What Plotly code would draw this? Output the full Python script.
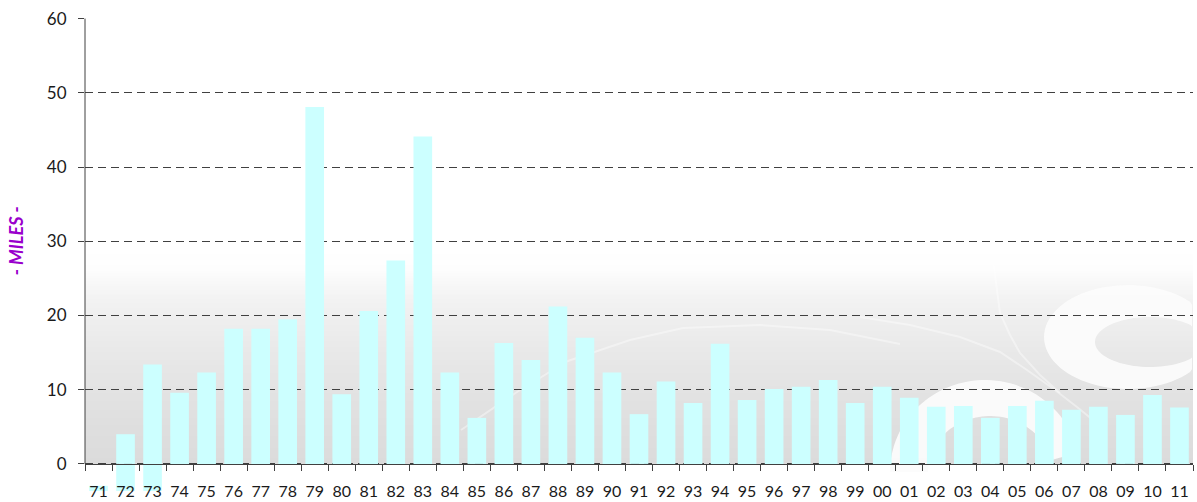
import numpy as np
import plotly.graph_objects as go

# Annual mileage by year (two-digit year labels)
years = ["71", "72", "73", "74", "75", "76", "77", "78", "79", "80",
         "81", "82", "83", "84", "85", "86", "87", "88", "89", "90",
         "91", "92", "93", "94", "95", "96", "97", "98", "99", "00",
         "01", "02", "03", "04", "05", "06", "07", "08", "09", "10", "11"]
miles = [0, 4.0, 13.4, 9.6, 12.3, 18.2, 18.2, 19.5, 48.1, 9.4,
         20.6, 27.4, 44.1, 12.3, 6.2, 16.3, 14.0, 21.2, 17.0, 12.3,
         6.7, 11.1, 8.2, 16.2, 8.6, 10.1, 10.4, 11.3, 8.2, 10.4,
         8.9, 7.7, 7.8, 6.2, 7.8, 8.5, 7.3, 7.7, 6.6, 9.3, 7.6]

# Segments that run below the axis for the first years
under_years = ["71", "72", "73"]
under_base = [-3.65, -3.65, -3.65]
under_len = [0.7, 3.65, 3.65]

y_ticks = [0, 10, 20, 30, 40, 50, 60]
Y_MIN, Y_MAX = -3.65, 60.08

BAR_COLOR = "#ccffff"
AXIS_COLOR = "#404040"
FONT = "Lato"

# plot-area geometry in page pixels (used for decorative background shapes)
L, T, W, H = 85, 18, 1108, 473


def to_paper(px, py):
    return (px - L) / W, (T + H - py) / H


def path_from(points, close=True):
    pts = [to_paper(x, y) for x, y in points]
    p = "M " + " L ".join(f"{x:.5f},{y:.5f}" for x, y in pts)
    return p + (" Z" if close else "")


def ellipse(cx, cy, rx, ry, a0, a1, n=60):
    t = np.radians(np.linspace(a0, a1, n))
    return list(zip(cx + rx * np.cos(t), cy - ry * np.sin(t)))


shapes = []

# soft grey gradient rising from the floor of the plot
# (stacked from the top down so no seams show between bands)
stops_v = [0, 4.6, 10, 15.4, 20, 22.1, 24.1, 26.2, 28.9]
stops_g = [219, 222, 227, 233, 239, 242, 247, 253, 255]
step = 0.25
for v1 in np.arange(29, 0, -step):
    g = int(round(np.interp(v1 - step / 2, stops_v, stops_g)))
    shapes.append(dict(type="rect", xref="paper", yref="y", layer="below",
                       x0=0, x1=1, y0=0, y1=v1,
                       fillcolor=f"rgb({g},{g},{g})", line_width=0))

# white swirl watermark
ring1 = ellipse(985, 472, 95, 92, 180, 12) + ellipse(990, 472, 62, 56, 12, 180)
shapes.append(dict(type="path", xref="paper", yref="paper", layer="below",
                   path=path_from(ring1), fillcolor="rgba(252,252,252,0.92)",
                   line_width=0))
outer = ellipse(1128, 337, 84, 52, -95, 265, 90)
inner = ellipse(1150, 342, 55, 25, 265, -95, 90)
ring2 = [(min(x, 1192), y) for x, y in outer + inner]
shapes.append(dict(type="path", xref="paper", yref="paper", layer="below",
                   path=path_from(ring2), fillcolor="rgba(252,252,252,0.92)",
                   line_width=0))

# faint swooping lines of the watermark
curves = [
    [(461, 430), (520, 390), (568, 361), (630, 340), (683, 328), (760, 325), (830, 330), (900, 344)],
    [(860, 317), (910, 325), (960, 337), (1000, 352), (1027, 370), (1055, 390), (1077, 407), (1093, 420)],
    [(990, 207), (993, 260), (1000, 313), (1010, 335), (1020, 353), (1040, 375), (1060, 393)],
]
for c in curves:
    shapes.append(dict(type="path", xref="paper", yref="paper", layer="below",
                       path=path_from(c, close=False),
                       line=dict(color="rgba(255,255,255,0.4)", width=2)))

# vertical axis line from 0 to the top of the scale
shapes.append(dict(type="line", xref="paper", yref="y", layer="above",
                   x0=0, x1=0, y0=0, y1=60,
                   line=dict(color=AXIS_COLOR, width=1)))

fig = go.Figure()
fig.add_trace(go.Bar(x=years, y=miles, marker_color=BAR_COLOR,
                     marker_line_width=0, width=0.69, showlegend=False))
fig.add_trace(go.Bar(x=under_years, y=under_len, base=under_base,
                     marker_color=BAR_COLOR, marker_line_width=0, width=0.69,
                     showlegend=False))

fig.update_layout(
    width=1197, height=502, autosize=False,
    margin=dict(l=L, r=1197 - L - W, t=T, b=502 - T - H),
    paper_bgcolor="white", plot_bgcolor="white",
    barmode="overlay",
    shapes=shapes,
    xaxis=dict(type="category", categoryorder="array", categoryarray=years,
               range=[-0.5, len(years) - 0.5], automargin=False,
               anchor="free", position=(0 - Y_MIN) / (Y_MAX - Y_MIN),
               showline=True, linecolor=AXIS_COLOR, linewidth=1,
               ticks="outside", tickson="boundaries", ticklen=6,
               tickcolor=AXIS_COLOR, tickwidth=1, tickangle=0,
               tickfont=dict(family=FONT, size=16, color="#1a1a1a"),
               ticklabelstandoff=13, showgrid=False, zeroline=False),
    yaxis=dict(range=[Y_MIN, Y_MAX], tickmode="array", tickvals=y_ticks,
               automargin=False,
               showgrid=True, gridcolor=AXIS_COLOR, gridwidth=1,
               griddash="8px,5px", zeroline=False, showline=False,
               ticks="outside", ticklen=6, tickcolor=AXIS_COLOR, tickwidth=1,
               tickfont=dict(family=FONT, size=17, color="#1a1a1a"),
               ticklabelstandoff=8),
    annotations=[dict(text="- MILES -", textangle=-90, showarrow=False,
                      xref="paper", yref="y", x=(16 - L) / W, y=30,
                      xanchor="center", yanchor="middle",
                      font=dict(family=FONT, size=18, color="#9900cc",
                                weight="bold", style="italic"))],
)

fig.write_html("out.html")
